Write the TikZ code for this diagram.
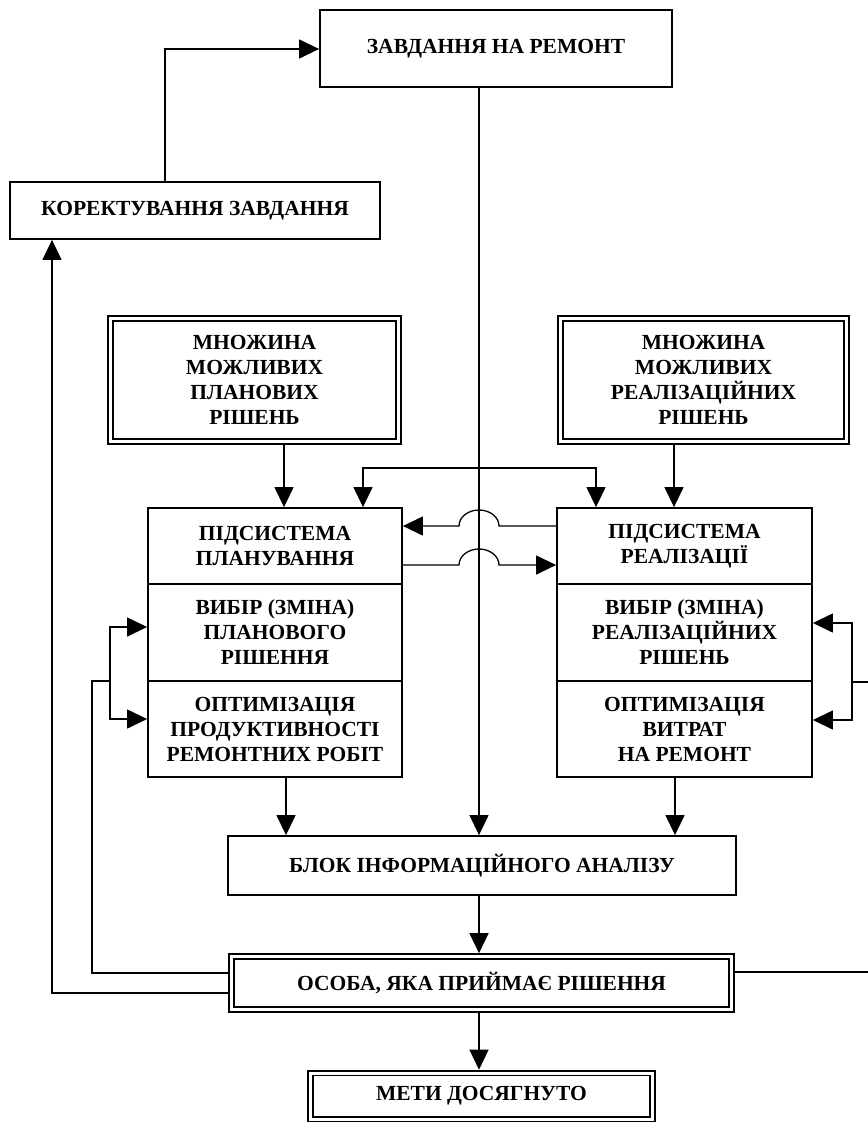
\documentclass[tikz,border=0pt]{standalone}
\usepackage{fontspec}
\setmainfont{Liberation Serif}
\usetikzlibrary{arrows.meta,calc}
\begin{document}
\begin{tikzpicture}[x=1pt,y=-1pt,
  txt/.style={font=\bfseries\fontsize{21.5}{25}\selectfont},
  box/.style={draw, line width=1.8pt, align=center, inner sep=0pt, txt},
  dbox/.style={draw, double, double distance=3pt, line width=1.8pt, outer sep=3.3pt, align=center, inner sep=0pt, txt},
  conn/.style={line width=1.3pt},
  tip/.tip={Triangle[length=20pt,width=19pt]},
  arr/.style={conn, -tip},
  darr/.style={conn, tip-tip}
]
\fill[white] (0,0) rectangle (868,1128);
\useasboundingbox (0,0) rectangle (868,1128);

% nodes
\node[box, minimum width=352pt, minimum height=77pt] (zav) at (496,48.5) {ЗАВДАННЯ НА РЕМОНТ};
\node[box, minimum width=370pt, minimum height=57pt] (kor) at (195,210.5) {КОРЕКТУВАННЯ ЗАВДАННЯ};
\node[dbox, minimum width=288pt, minimum height=123pt] (mp) at (254.5,380) {МНОЖИНА\\МОЖЛИВИХ\\ПЛАНОВИХ\\РІШЕНЬ};
\node[dbox, minimum width=286pt, minimum height=123pt] (mr) at (703.5,380) {МНОЖИНА\\МОЖЛИВИХ\\РЕАЛІЗАЦІЙНИХ\\РІШЕНЬ};
\node[box, minimum width=254pt, minimum height=76pt] (ps) at (275,546) {ПІДСИСТЕМА\\ПЛАНУВАННЯ};
\node[box, minimum width=254pt, minimum height=97pt] (pv) at (275,632.5) {ВИБІР (ЗМІНА)\\ПЛАНОВОГО\\РІШЕННЯ};
\node[box, minimum width=254pt, minimum height=96pt] (po) at (275,729) {ОПТИМІЗАЦІЯ\\ПРОДУКТИВНОСТІ\\РЕМОНТНИХ РОБІТ};
\node[box, minimum width=255pt, minimum height=76pt] (rs) at (684.5,546) {ПІДСИСТЕМА\\РЕАЛІЗАЦІЇ};
\node[box, minimum width=255pt, minimum height=97pt] (rv) at (684.5,632.5) {ВИБІР (ЗМІНА)\\РЕАЛІЗАЦІЙНИХ\\РІШЕНЬ};
\node[box, minimum width=255pt, minimum height=96pt] (ro) at (684.5,729) {ОПТИМІЗАЦІЯ\\ВИТРАТ\\НА РЕМОНТ};
\node[box, minimum width=508pt, minimum height=59pt] (blok) at (482,865.5) {БЛОК ІНФОРМАЦІЙНОГО АНАЛІЗУ};
\node[dbox, minimum width=500pt, minimum height=53pt] (osoba) at (481.5,983) {ОСОБА, ЯКА ПРИЙМАЄ РІШЕННЯ};
\node[dbox, minimum width=342pt, minimum height=46pt] (meta) at (481.5,1096) {МЕТИ ДОСЯГНУТО};

% helper coordinates
\coordinate (vx) at (479,0);
\coordinate (h1) at (479,526);
\coordinate (h2) at (479,565);
\coordinate (k1) at (165,49);
\coordinate (a1) at (284,0);
\coordinate (a2) at (674,0);
\coordinate (t1) at (363,468);
\coordinate (t2) at (596,468);
\coordinate (b1) at (286,0);
\coordinate (b2) at (675,0);
\coordinate (l1) at (92,973);
\coordinate (l2) at (92,681);
\coordinate (l3) at (110,681);
\coordinate (l4) at (110,627);
\coordinate (l5) at (110,719);
\coordinate (m1) at (52,993);
\coordinate (r1) at (868,972);
\coordinate (r2) at (868,682);
\coordinate (r3) at (852,682);
\coordinate (r4) at (852,623);
\coordinate (r5) at (852,720);

% connectors
\draw[arr] (zav.south -| vx) -- (blok.north -| vx);
\draw[arr] (kor.north -| k1) -- (k1) -- (zav.west |- k1);
\draw[arr] (mp.south -| a1) -- (ps.north -| a1);
\draw[arr] (mr.south -| a2) -- (rs.north -| a2);
\draw[darr] (ps.north -| t1) -- (t1) -- (t2) -- (rs.north -| t2);
\draw[arr] (rs.west |- h1) -- ($(h1)+(20,0)$) arc[start angle=0,end angle=180,x radius=20pt,y radius=16pt] -- (ps.east |- h1);
\draw[arr] (ps.east |- h2) -- ($(h2)+(-20,0)$) arc[start angle=180,end angle=0,x radius=20pt,y radius=16pt] -- (rs.west |- h2);
\draw[arr] (po.south -| b1) -- (blok.north -| b1);
\draw[arr] (ro.south -| b2) -- (blok.north -| b2);
\draw[arr] (blok.south -| vx) -- (osoba.north -| vx);
\draw[arr] (osoba.south -| vx) -- (meta.north -| vx);
\draw[conn] (osoba.west |- l1) -- (l1) -- (l2) -- (l3);
\draw[arr] (l3) -- (l4) -- (pv.west |- l4);
\draw[arr] (l3) -- (l5) -- (po.west |- l5);
\draw[arr] (osoba.west |- m1) -- (m1) -- (kor.south -| m1);
\draw[conn] (osoba.east |- r1) -- (r1);
\draw[conn] (r2) -- (r3);
\draw[arr] (r3) -- (r4) -- (rv.east |- r4);
\draw[arr] (r3) -- (r5) -- (ro.east |- r5);
\end{tikzpicture}
\end{document}
